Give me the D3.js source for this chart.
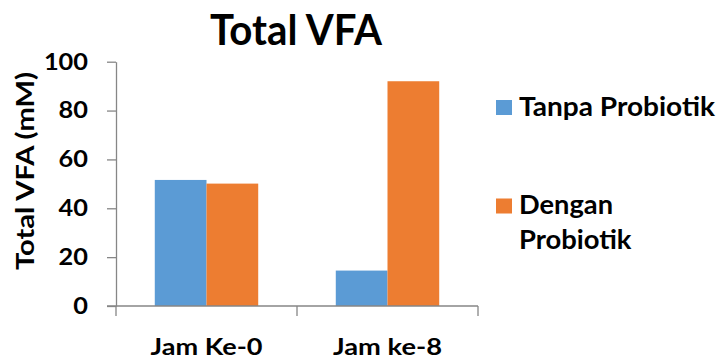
<!DOCTYPE html>
<html>
<head>
<meta charset="utf-8">
<script src="https://cdn.jsdelivr.net/npm/d3@7"></script>
<style>
  html, body { margin: 0; padding: 0; background: #fff; }
  svg { display: block; }
  text { font-family: Lato, "Open Sans", sans-serif; font-weight: 700; fill: #000; }
</style>
</head>
<body>
<svg id="chart" width="720" height="359"></svg>
<script>
// Total VFA concentration by sampling hour, with and without probiotic
const categories = ["Jam Ke-0", "Jam ke-8"];
const seriesNames = ["Tanpa Probiotik", "Dengan Probiotik"];
const tanpaProbiotik = [51.6, 14.5];
const denganProbiotik = [50.1, 92.0];
const yTicks = [0, 20, 40, 60, 80, 100];
const colors = ["#5B9BD5", "#ED7D31"];

const seriesValues = [tanpaProbiotik, denganProbiotik];
const rows = categories.map((c, i) => ({
  category: c,
  values: seriesNames.map((s, j) => ({ series: s, idx: j, value: seriesValues[j][i] }))
}));

const svg = d3.select("#chart");
const axisColor = "#868686";

// stretch a text run to a set width so the wide bold face is kept
const fit = (sel, w) => sel.attr("textLength", w).attr("lengthAdjust", "spacingAndGlyphs");

const x0 = d3.scaleBand()
  .domain(categories)
  .range([116, 478])
  .paddingInner(3 / 7)
  .paddingOuter(1.5 / 7);

const x1 = d3.scaleBand()
  .domain(seriesNames)
  .range([0, x0.bandwidth()]);

const y = d3.scaleLinear().domain([0, 100]).range([306, 61.7]);

// title
svg.append("text")
  .attr("x", 296).attr("y", 45)
  .attr("text-anchor", "middle")
  .style("font-size", "42px")
  .call(fit, 172)
  .text("Total VFA");

// bars
const groups = svg.append("g").selectAll("g")
  .data(rows).join("g")
  .attr("transform", d => `translate(${x0(d.category)},0)`);

groups.selectAll("rect")
  .data(d => d.values).join("rect")
  .attr("x", d => x1(d.series))
  .attr("width", x1.bandwidth())
  .attr("y", d => y(d.value))
  .attr("height", d => y(0) - y(d.value))
  .attr("fill", d => colors[d.idx]);

// y axis
const yAxis = svg.append("g")
  .attr("transform", "translate(116,0)")
  .call(d3.axisLeft(y).tickValues(yTicks).tickSize(9).tickPadding(19).tickSizeOuter(0));
yAxis.select(".domain").attr("stroke", axisColor).attr("stroke-width", 1.3);
yAxis.selectAll(".tick line").attr("stroke", axisColor).attr("stroke-width", 1.3);
yAxis.selectAll(".tick text")
  .attr("fill", "#000")
  .style("font-family", "Lato, 'Open Sans', sans-serif")
  .style("font-weight", 700)
  .style("font-size", "23px")
  .each(function (d) { fit(d3.select(this), String(d).length * 14.7); });

// x axis line with tick marks between categories
const xBase = y(0);
const [xStart, xEnd] = x0.range();
svg.append("line")
  .attr("x1", xStart - 9).attr("x2", xEnd)
  .attr("y1", xBase).attr("y2", xBase)
  .attr("stroke", axisColor).attr("stroke-width", 1.3);
const bounds = d3.range(categories.length + 1).map(i => xStart + i * x0.step());
svg.append("g").selectAll("line")
  .data(bounds).join("line")
  .attr("x1", d => d).attr("x2", d => d)
  .attr("y1", xBase).attr("y2", xBase + 10)
  .attr("stroke", axisColor).attr("stroke-width", 1.3);

// category labels
const catWidths = [112, 109];
svg.append("g").selectAll("text")
  .data(categories).join("text")
  .attr("x", d => x0(d) + x0.bandwidth() / 2)
  .attr("y", 355)
  .attr("text-anchor", "middle")
  .style("font-size", "22px")
  .attr("textLength", (d, i) => catWidths[i])
  .attr("lengthAdjust", "spacingAndGlyphs")
  .text(d => d);

// y axis title
svg.append("text")
  .attr("transform", "translate(34,171) rotate(-90)")
  .attr("text-anchor", "middle")
  .style("font-size", "25px")
  .call(fit, 198)
  .text("Total VFA (mM)");

// legend
const legendItems = [
  { lines: ["Tanpa Probiotik"], widths: [196], top: 100 },
  { lines: ["Dengan", "Probiotik"], widths: [94, 112.5], top: 198.5 }
];
const legend = svg.append("g");
legendItems.forEach((item, i) => {
  legend.append("rect")
    .attr("x", 496).attr("y", item.top)
    .attr("width", 16).attr("height", 15)
    .attr("fill", colors[i]);
  item.lines.forEach((ln, k) => {
    legend.append("text")
      .attr("x", 519)
      .attr("y", item.top + 15.5 + k * 35)
      .style("font-size", "26px")
      .call(fit, item.widths[k])
      .text(ln);
  });
});
</script>
</body>
</html>
